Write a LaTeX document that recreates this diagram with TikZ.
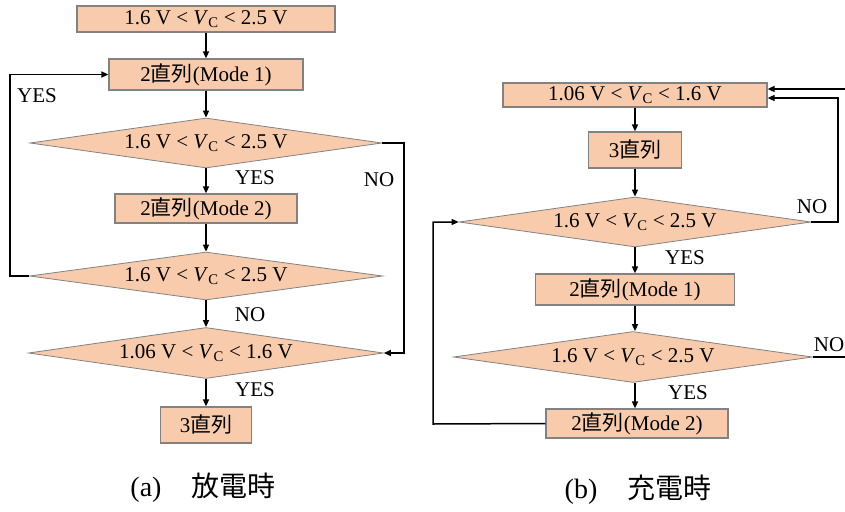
\documentclass[tikz,border=0pt]{standalone}
\usepackage{fontspec}
\setmainfont{Liberation Serif}
\newfontfamily\cjk{Noto Sans CJK JP}
\usetikzlibrary{shapes.geometric,arrows.meta}
\definecolor{peach}{RGB}{248,203,173}
\definecolor{edge}{RGB}{130,130,130}
\tikzset{
  box/.style={draw=edge,line width=1.2pt,fill=peach,inner sep=0pt,font=\fontsize{21}{24}\selectfont},
  dia/.style={diamond,aspect=7,draw=edge,line width=0.8pt,fill=peach,inner sep=0pt,font=\fontsize{21}{24}\selectfont},
  lab/.style={font=\fontsize{21}{24}\selectfont,inner sep=0pt},
  captext/.style={font=\fontsize{28}{32}\selectfont,inner sep=0pt},
  arr/.style={line width=1.5pt,-{Triangle[length=7pt,width=6pt]}},
  ln/.style={line width=1.5pt},
}
\newcommand{\vc}{\textit{V}\textsubscript{C}}
\begin{document}
\begin{tikzpicture}[x=1pt,y=-1pt]
\useasboundingbox (0,0) rectangle (845,511);
% ---------- (a) ----------
\node[box,minimum width=258pt,minimum height=26pt] (a1) at (206,19) {1.6 V < \vc{} < 2.5 V};
\node[box,minimum width=194pt,minimum height=31pt] (a2) at (206,74.5) {2{\cjk 直列}(Mode 1)};
\node[dia,minimum width=352pt,minimum height=50pt] (ad1) at (206,143) {1.6 V < \vc{} < 2.5 V};
\node[box,minimum width=182pt,minimum height=29pt] (a3) at (206,208.5) {2{\cjk 直列}(Mode 2)};
\node[dia,minimum width=353pt,minimum height=48pt] (ad2) at (206,276) {1.6 V < \vc{} < 2.5 V};
\node[dia,minimum width=355pt,minimum height=51pt] (ad3) at (206,353) {1.06 V < \vc{} < 1.6 V};
\node[box,minimum width=91pt,minimum height=36pt] (a4) at (206,425) {3{\cjk 直列}};
\draw[arr] (a1) -- (a2);
\draw[arr] (a2) -- (ad1);
\draw[arr] (ad1) -- (a3);
\draw[arr] (a3) -- (ad2);
\draw[arr] (ad2) -- (ad3);
\draw[arr] (ad3) -- (a4);
\coordinate (la) at (10,276);
\coordinate (ra) at (404,143);
\draw[arr] (ad2.west) -- (la) |- (a2.west);
\draw[arr] (ad1.east) -- (ra) |- (ad3.east);
\node[lab] (y1) at (37,96) {YES};
\node[lab] (y2) at (255,178) {YES};
\node[lab] (n1) at (379,180) {NO};
\node[lab] (n2) at (250,315) {NO};
\node[lab] (y3) at (255,390) {YES};
\node[captext] (capa) at (203,488) {(a)\hspace{30pt}{\cjk 放電時}};
% ---------- (b) ----------
\node[box,minimum width=264pt,minimum height=24pt] (b1) at (635,95) {1.06 V < \vc{} < 1.6 V};
\node[box,minimum width=93pt,minimum height=36pt] (b2) at (635,150) {3{\cjk 直列}};
\node[dia,minimum width=352pt,minimum height=50pt] (bd1) at (635,222) {1.6 V < \vc{} < 2.5 V};
\node[box,minimum width=199pt,minimum height=31pt] (b3) at (635,289.5) {2{\cjk 直列}(Mode 1)};
\node[dia,minimum width=359pt,minimum height=51pt] (bd2) at (633,357) {1.6 V < \vc{} < 2.5 V};
\node[box,minimum width=182pt,minimum height=29pt] (b4) at (637,423.5) {2{\cjk 直列}(Mode 2)};
\draw[arr] (b1) -- (b2);
\draw[arr] (b2) -- (bd1);
\draw[arr] (bd1) -- (b3);
\draw[arr] (b3.south) -- (b3.south |- bd2.north);
\draw[arr] (bd2.south -| b3.south) -- (b3.south |- b4.north);
\coordinate (rb) at (838,222);
\coordinate (re) at (845,89);
\coordinate (re2) at (845,357);
\coordinate (lb) at (433,424);
\draw[arr] (bd1.east) -- (rb) |- ([yshift=-3pt]b1.east);
\draw[arr] (re) -- ([yshift=6pt]b1.east);
\draw[ln] (bd2.east) -- (re2);
\draw[arr] (b4.west) -- (lb) |- (bd1.west);
\node[lab] (n3) at (812,207) {NO};
\node[lab] (y4) at (685,258) {YES};
\node[lab] (n4) at (829,345) {NO};
\node[lab] (y5) at (688,393) {YES};
\node[captext] (capb) at (638,490) {(b)\hspace{30pt}{\cjk 充電時}};
\end{tikzpicture}
\end{document}
